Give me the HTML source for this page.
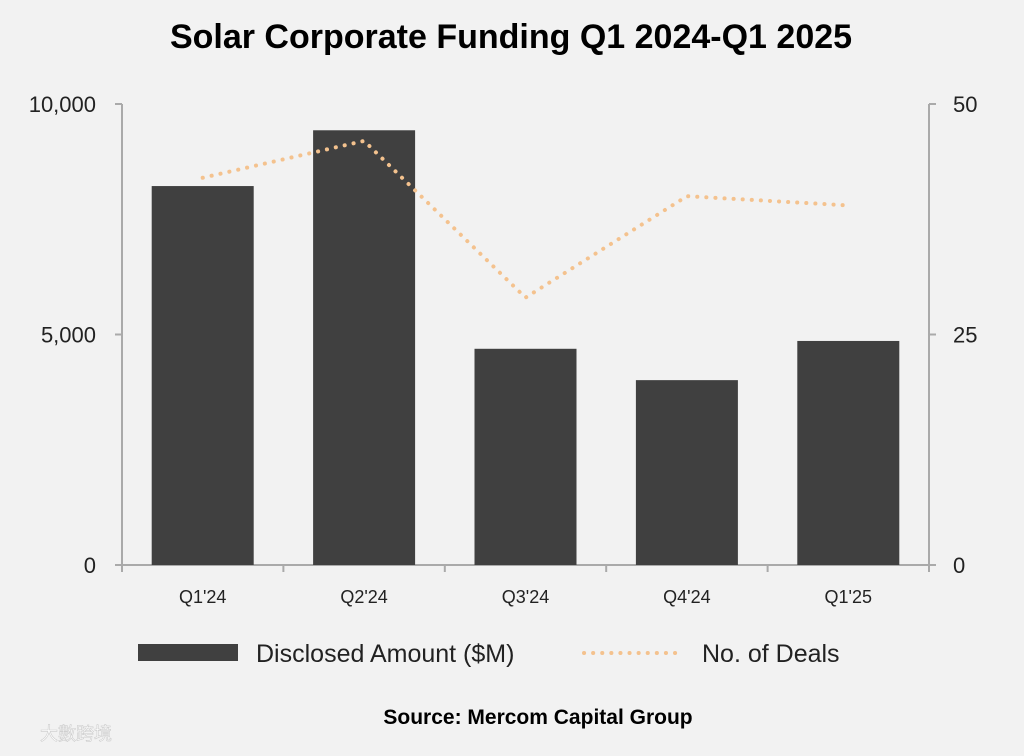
<!DOCTYPE html>
<html><head><meta charset="utf-8">
<style>
html,body{margin:0;padding:0;background:#f2f2f2;}
body{width:1024px;height:751px;overflow:hidden;font-family:"Liberation Sans","Noto Sans CJK TC",sans-serif;}
</style></head>
<body>
<svg width="1024" height="751" viewBox="0 0 1024 751" xmlns="http://www.w3.org/2000/svg">
<rect width="1024" height="751" fill="#f2f2f2"/>
<text x="511" y="48" text-anchor="middle" font-size="34" font-weight="bold" fill="#000">Solar Corporate Funding Q1 2024-Q1 2025</text>
<g id="plot"></g>
<g>
<rect x="138" y="644" width="100" height="17" fill="#404040"/>
<text x="256" y="662" font-size="25" fill="#222">Disclosed Amount ($M)</text>
<line x1="584" y1="653" x2="682" y2="653" stroke="#f4c28e" stroke-width="4" stroke-dasharray="0.1 9" stroke-linecap="round"/>
<text x="702" y="662" font-size="25" fill="#222">No. of Deals</text>
</g>
<text x="538" y="724" text-anchor="middle" font-size="21" font-weight="bold" fill="#000">Source: Mercom Capital Group</text>
<text x="40" y="740" font-size="18" fill="#fff" stroke="#ccc" stroke-width="0.6">大數跨境</text>
</svg>
<script>
const categories=["Q1'24","Q2'24","Q3'24","Q4'24","Q1'25"];
const amounts=[8220,9430,4690,4010,4860];
const deals=[42,46,29,40,39];
const leftTicks=[0,5000,10000];
const leftTickLabels=["0","5,000","10,000"];
const rightTicks=[0,25,50];
const rightTickLabels=["0","25","50"];

const NS="http://www.w3.org/2000/svg";
const g=document.getElementById('plot');
const X0=122,X1=929,Y0=565,Y1=104;
const band=(X1-X0)/categories.length;
const xc=i=>X0+band*(i+0.5);
const yL=v=>Y0-(v/10000)*(Y0-Y1);
const yR=v=>Y0-(v/50)*(Y0-Y1);
function mk(tag,attrs){const e=document.createElementNS(NS,tag);for(const k in attrs)e.setAttribute(k,attrs[k]);g.appendChild(e);return e;}

let a=mk('line',{x1:X0,y1:Y1,x2:X0,y2:Y0,stroke:'#aaa','stroke-width':2});


a=mk('line',{x1:X1,y1:Y1,x2:X1,y2:Y0,stroke:'#aaa','stroke-width':2});


a=mk('line',{x1:X0,y1:Y0,x2:X1,y2:Y0,stroke:'#aaa','stroke-width':2});



leftTicks.forEach((v,i)=>{
  const t=mk('line',{x1:X0-7,y1:yL(v),x2:X0,y2:yL(v),stroke:'#aaa','stroke-width':2});
  
  
  const l=mk('text',{x:X0-26,y:yL(v)+8,'text-anchor':'end','font-size':22,fill:'#222'});
  l.textContent=leftTickLabels[i];
  
  
});
rightTicks.forEach((v,i)=>{
  const t=mk('line',{x1:X1,y1:yR(v),x2:X1+7,y2:yR(v),stroke:'#aaa','stroke-width':2});
  
  
  const l=mk('text',{x:X1+24,y:yR(v)+8,'font-size':22,fill:'#222'});
  l.textContent=rightTickLabels[i];
  
  
});
for(let i=0;i<=categories.length;i++){
  const t=mk('line',{x1:X0+band*i,y1:Y0,x2:X0+band*i,y2:Y0+7,stroke:'#aaa','stroke-width':2});
  
  
}
categories.forEach((c,i)=>{
  const b=mk('rect',{x:xc(i)-51,y:yL(amounts[i]),width:102,height:Y0-yL(amounts[i]),fill:'#404040'});
  
  
  const l=mk('text',{x:xc(i),y:Y0+38,'text-anchor':'middle','font-size':18,fill:'#222'});
  l.textContent=c;
  
  
});
const pts=deals.map((d,i)=>xc(i)+','+yR(d)).join(' ');
const ln=mk('polyline',{points:pts,fill:'none',stroke:'#f4c28e','stroke-width':4,'stroke-dasharray':'0.1 9','stroke-linecap':'round','stroke-linejoin':'round'});


</script>
</body></html>
